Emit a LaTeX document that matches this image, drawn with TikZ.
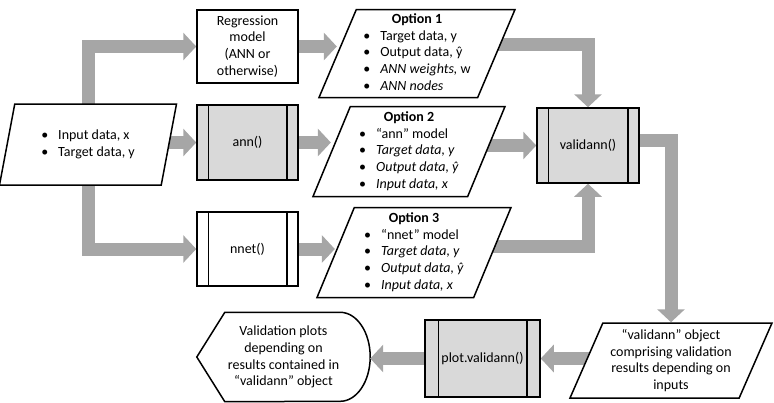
\documentclass[tikz,border=0pt]{standalone}
\usepackage{fontspec}
\setmainfont{Carlito}
\usepackage{tikz}
\usetikzlibrary{arrows.meta, positioning, shapes.geometric, backgrounds}
\definecolor{flowgray}{HTML}{A6A6A6}
\definecolor{procfill}{HTML}{D9D9D9}
\newcommand{\figfont}{\fontsize{14}{16.7}\selectfont}
\newcommand{\blt}{\textbullet}
\tikzset{
  iobox/.style={trapezium, draw, fill=white, line width=1.5pt, trapezium stretches body,
                align=center, font=\figfont, inner sep=2pt},
  obox/.style={draw, fill=white, line width=1.5pt, minimum width=101pt, minimum height=74pt,
               align=center, font=\figfont, inner sep=2pt},
  pbox/.style={obox, fill=procfill},
  flow/.style={-{Triangle[width=27pt,length=13pt]}, line width=13pt, flowgray},
}

\begin{document}
\begin{tikzpicture}[x=1pt, y=-1pt]
  \useasboundingbox (0,0) rectangle (774,402);

  \node[iobox, trapezium left angle=67.8, trapezium right angle=112.2,
        minimum width=177pt, minimum height=81pt] (in) at (88,144.5)
    {\begin{tabular}{@{}c@{\hspace{10pt}}l@{}}
       \blt & Input data, x\\
       \blt & Target data, y
     \end{tabular}};

  \node[obox, minimum height=73pt] (reg) at (247.5,46.5)
    {Regression\\ model\\ (ANN or\\ otherwise)};
  \node[pbox, minimum height=75pt] (ann) at (247.5,142.5) {ann()};
  \node[obox] (nnet) at (247.5,249) {nnet()};

  \node[iobox, trapezium left angle=66.9, trapezium right angle=113.1,
        minimum width=196pt, minimum height=88pt] (opt1) at (417,53.5)
    {\begin{tabular}{@{}c@{\hspace{10pt}}l@{}}
       \multicolumn{2}{c}{\textbf{Option 1}}\\
       \blt & Target data, y\\
       \blt & Output data, ŷ\\
       \blt & \textit{ANN weights,} w\\
       \blt & \textit{ANN nodes}
     \end{tabular}};
  \node[iobox, trapezium left angle=66.9, trapezium right angle=113.1,
        minimum width=192pt, minimum height=90pt] (opt2) at (409,151.5)
    {\begin{tabular}{@{}c@{\hspace{10pt}}l@{}}
       \multicolumn{2}{c}{\textbf{Option 2}}\\
       \blt & “ann” model\\
       \blt & \textit{Target data, y}\\
       \blt & \textit{Output data, ŷ}\\
       \blt & \textit{Input data, x}
     \end{tabular}};
  \node[iobox, trapezium left angle=66.9, trapezium right angle=113.1,
        minimum width=194pt, minimum height=90pt] (opt3) at (414,252.5)
    {\begin{tabular}{@{}c@{\hspace{10pt}}l@{}}
       \multicolumn{2}{c}{\textbf{Option 3}}\\
       \blt & “nnet” model\\
       \blt & \textit{Target data, y}\\
       \blt & \textit{Output data, ŷ}\\
       \blt & \textit{Input data, x}
     \end{tabular}};

  \node[pbox, minimum width=102pt, minimum height=75pt] (valid) at (588,145.5) {validann()};

  \node[iobox, trapezium left angle=63.7, trapezium right angle=116.3,
        minimum width=202pt, minimum height=75pt] (obj) at (671,360.5)
    {“validann” object\\ comprising validation\\ results depending on\\ inputs};

  \node[pbox, minimum width=115pt, minimum height=77pt] (plot) at (482.5,358.5) {plot.validann()};

  \node[minimum width=173pt, minimum height=89pt, align=center, font=\figfont,
        inner sep=0pt] (disp) at (283.5,357)
    {Validation plots\\ depending on\\ results contained in\\ “validann” object};

  \foreach \n/\d in {ann/12, nnet/12, valid/12, plot/14}
    \draw[line width=1.5pt] ([xshift=\d pt]\n.north west) -- ([xshift=\d pt]\n.south west)
      ([xshift=-\d pt]\n.north east) -- ([xshift=-\d pt]\n.south east);

  \begin{scope}[on background layer]
    \draw[line width=1.5pt, fill=white] (disp.west) -- ([xshift=28pt]disp.north west)
      -- ([xshift=-30pt]disp.north east) arc[start angle=90, end angle=-90, x radius=30pt, y radius=44.5pt]
      -- ([xshift=28pt]disp.south west) -- cycle;
    \draw[flow] (in.center) |- (reg.west);
    \draw[flow] (in.center |- ann.west) -- (ann.west);
    \draw[flow] (in.center) |- (nnet.west);
    \draw[flow] (reg.east) -- (reg.east -| opt1.left side);
    \draw[flow] (ann.east) -- (ann.east -| opt2.left side);
    \draw[flow] (nnet.east) -- (nnet.east -| opt3.left side);
    \draw[flow] ([yshift=9pt]opt1.center) -| (valid.north);
    \draw[flow] (opt2.center |- valid.west) -- (valid.west);
    \draw[flow] ([yshift=6pt]opt3.center) -| (valid.south);
    \draw[flow] ([yshift=5pt]valid.east) -| (obj.center |- obj.top side);
    \draw[flow] (obj.center |- plot.east) -- (plot.east);
    \draw[flow] (plot.west) -- (plot.west -| disp.east);
  \end{scope}
\end{tikzpicture}
\end{document}
